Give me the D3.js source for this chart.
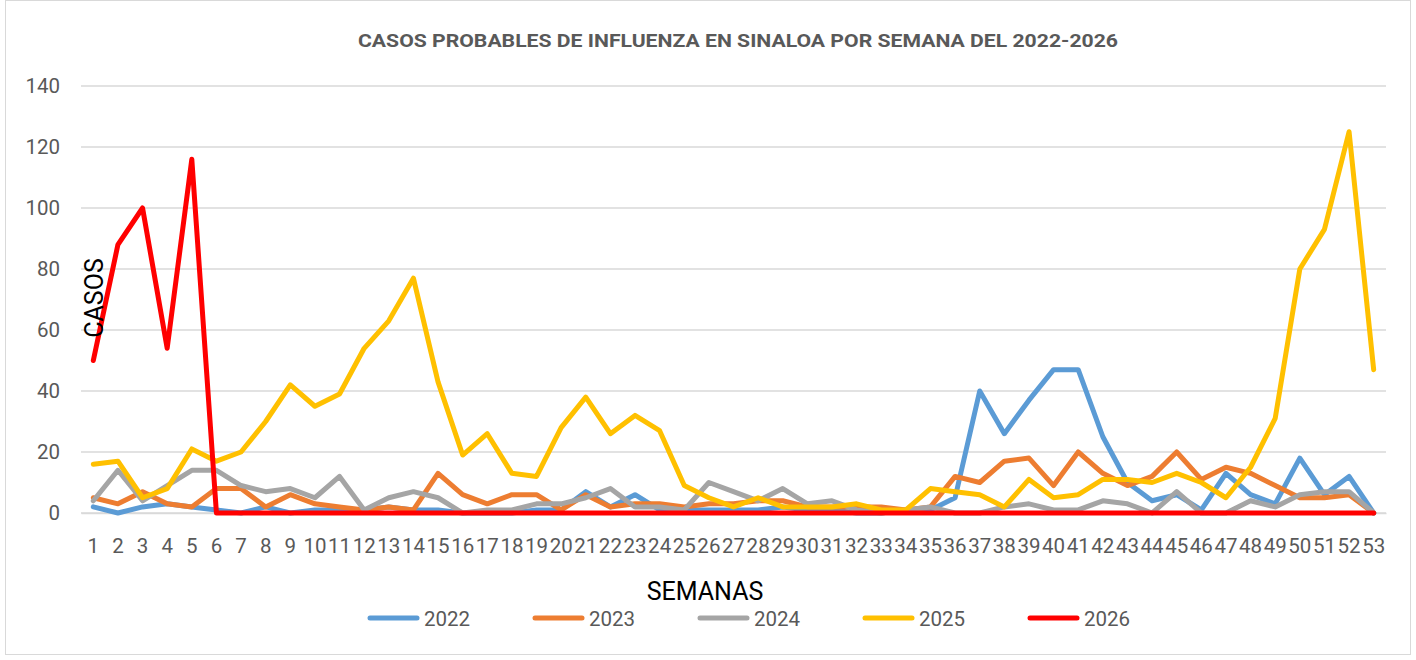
<!DOCTYPE html>
<html>
<head>
<meta charset="utf-8">
<script src="https://cdn.jsdelivr.net/npm/d3@7"></script>
<style>
    body { margin: 0; background: #fff; }
    #chart-area { width: 1416px; height: 660px; }
    text { font-family: Roboto, "Open Sans", sans-serif; }
</style>
</head>
<body>
<div id="chart-area"></div>
<script>

// semanas epidemiologicas
let weeks = ["1","2","3","4","5","6","7","8","9","10","11","12","13","14","15","16","17","18","19","20",
    "21","22","23","24","25","26","27","28","29","30","31","32","33","34","35","36","37","38","39","40",
    "41","42","43","44","45","46","47","48","49","50","51","52","53"];

let cases2022 = [2,0,2,3,2,1,0,2,0,1, 1,1,2,1,1,0,0,0,1,1, 7,2,6,1,1,1,1,1,2,1, 1,0,0,1,1,5,40,26,37,47, 47,25,10,4,6,1,13,6,3,18, 6,12,0];
let cases2023 = [5,3,7,3,2,8,8,2,6,3, 2,1,2,1,13,6,3,6,6,1, 6,2,3,3,2,3,3,4,4,2, 2,2,2,1,2,12,10,17,18,9, 20,13,9,12,20,11,15,13,9,5, 5,6,0];
let cases2024 = [4,14,4,9,14,14,9,7,8,5, 12,1,5,7,5,0,1,1,3,3, 5,8,2,2,1,10,7,4,8,3, 4,1,0,1,2,0,0,2,3,1, 1,4,3,0,7,0,0,4,2,6, 7,7,0];
let cases2025 = [16,17,5,8,21,17,20,30,42,35, 39,54,63,77,43,19,26,13,12,28, 38,26,32,27,9,5,2,5,2,2, 2,3,1,1,8,7,6,2,11,5, 6,11,11,10,13,10,5,15,31,80, 93,125,47];
let cases2026 = [50,88,100,54,116,0,0,0,0,0, 0,0,0,0,0,0,0,0,0,0, 0,0,0,0,0,0,0,0,0,0, 0,0,0,0,0,0,0,0,0,0, 0,0,0,0,0,0,0,0,0,0, 0,0,0];

let seriesNames = ["2022", "2023", "2024", "2025", "2026"];
let seriesColors = ["#5B9BD5", "#ED7D31", "#A5A5A5", "#FFC000", "#FF0000"];
let yTicks = [0, 20, 40, 60, 80, 100, 120, 140];

class InfluenzaChart {

    constructor(parentElement, data) {
        this.parentElement = parentElement;
        this.data = data;
        this.initVis();
    }

    initVis() {
        let vis = this;

        vis.margin = {top: 86, right: 30, bottom: 147, left: 81};
        vis.totalWidth = 1416;
        vis.totalHeight = 660;
        vis.width = 1386 - vis.margin.left;
        vis.height = 513 - vis.margin.top;

        vis.svg = d3.select("#" + vis.parentElement).append("svg")
            .attr("width", vis.totalWidth)
            .attr("height", vis.totalHeight);

        // borde del grafico
        vis.svg.append("rect")
            .attr("x", 5.5).attr("y", 0.5)
            .attr("width", 1405).attr("height", 654)
            .attr("fill", "none")
            .attr("stroke", "#d9d9d9");

        vis.svg.append("text")
            .attr("x", 738).attr("y", 47)
            .attr("text-anchor", "middle")
            .attr("textLength", 760)
            .attr("lengthAdjust", "spacingAndGlyphs")
            .style("font-size", "19px")
            .style("font-weight", "bold")
            .style("fill", "#595959")
            .text("CASOS PROBABLES DE INFLUENZA EN SINALOA POR SEMANA DEL 2022-2026");

        vis.g = vis.svg.append("g")
            .attr("transform", `translate(${vis.margin.left},${vis.margin.top})`);

        vis.x = d3.scaleBand()
            .domain(weeks)
            .range([0, vis.width]);

        vis.y = d3.scaleLinear()
            .domain([0, 140])
            .range([vis.height, 0]);

        // lineas de cuadricula
        vis.g.selectAll(".grid")
            .data(yTicks)
            .enter()
            .append("line")
            .attr("class", "grid")
            .attr("x1", 0).attr("x2", vis.width)
            .attr("y1", d => vis.y(d)).attr("y2", d => vis.y(d))
            .attr("stroke", "#d9d9d9")
            .attr("stroke-width", 1.5);

        let yAxis = vis.g.append("g")
            .call(d3.axisLeft(vis.y).tickValues(yTicks).tickSize(0).tickPadding(21));
        yAxis.select(".domain").remove();
        yAxis.selectAll("text").style("font-size", "20.5px").style("fill", "#595959").style("font-family", "Roboto, sans-serif");

        let xAxis = vis.g.append("g")
            .attr("transform", `translate(0,${vis.height})`)
            .call(d3.axisBottom(vis.x).tickSize(0).tickPadding(25));
        xAxis.select(".domain").attr("stroke", "#d9d9d9").attr("stroke-width", 1.5);
        xAxis.selectAll("text").style("font-size", "20.5px").style("fill", "#595959").style("font-family", "Roboto, sans-serif");

        // titulos de ejes
        vis.svg.append("text")
            .attr("transform", "translate(103,298) rotate(-90)")
            .attr("text-anchor", "middle")
            .style("font-size", "25px")
            .style("fill", "#000")
            .text("CASOS");

        vis.svg.append("text")
            .attr("x", 705).attr("y", 600)
            .attr("text-anchor", "middle")
            .style("font-size", "25px")
            .style("fill", "#000")
            .text("SEMANAS");

        vis.wrangleData();
    }

    wrangleData() {
        let vis = this;

        vis.displayData = seriesNames.map((name, i) => ({
            name: name,
            color: seriesColors[i],
            values: vis.data[i].map((v, j) => ({week: weeks[j], value: v}))
        }));

        vis.updateVis();
    }

    updateVis() {
        let vis = this;

        let line = d3.line()
            .x(d => vis.x(d.week) + vis.x.bandwidth() / 2)
            .y(d => vis.y(d.value));

        vis.g.selectAll(".series")
            .data(vis.displayData)
            .enter()
            .append("path")
            .attr("class", "series")
            .attr("d", d => line(d.values))
            .attr("fill", "none")
            .attr("stroke", d => d.color)
            .attr("stroke-width", 5)
            .attr("stroke-linejoin", "round")
            .attr("stroke-linecap", "round");

        // leyenda
        let legend = vis.svg.selectAll(".legend")
            .data(vis.displayData)
            .enter()
            .append("g")
            .attr("class", "legend")
            .attr("transform", (d, i) => `translate(${370 + i * 165},618)`);

        legend.append("line")
            .attr("x1", 0).attr("x2", 47)
            .attr("stroke", d => d.color)
            .attr("stroke-width", 5)
            .attr("stroke-linecap", "round");

        legend.append("text")
            .attr("x", 54).attr("y", 8)
            .style("font-size", "20.5px")
            .style("fill", "#595959")
            .text(d => d.name);
    }
}

let chart = new InfluenzaChart("chart-area", [cases2022, cases2023, cases2024, cases2025, cases2026]);

</script>
</body>
</html>
